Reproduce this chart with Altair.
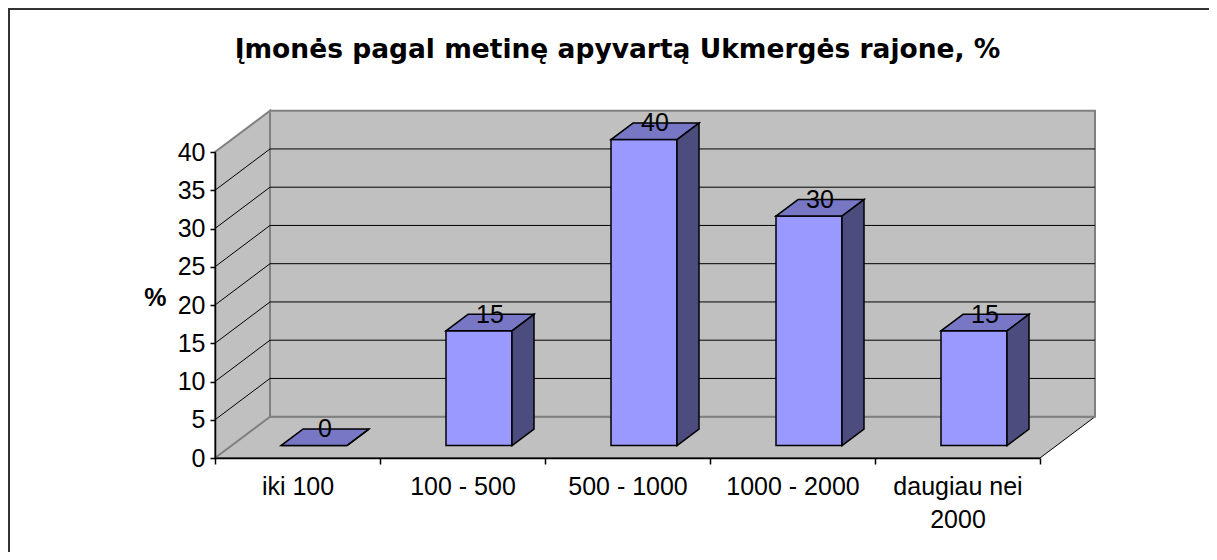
import json
import altair as alt
import pandas as pd

# ---------------- data ----------------
categories = ["iki 100", "100 - 500", "500 - 1000", "1000 - 2000", "daugiau nei\n2000"]
values = [0, 15, 40, 30, 15]
y_ticks = [0, 5, 10, 15, 20, 25, 30, 35, 40]
title_text = "Įmonės pagal metinę apyvartą Ukmergės rajone, %"
y_title = "%"

# ---------------- layout constants ----------------
FONT = "Liberation Sans"
TITLE_FONT = "DejaVu Sans"
PX_CAT = 165.0
PX_VAL = 7.65
N = len(categories)
YMAX = y_ticks[-1]
W = N * PX_CAT
H = YMAX * PX_VAL
PAD = {"left": 207, "top": 144, "right": 1201 - 207 - W, "bottom": 544 - 144 - H}
DEPTH_X_PX, DEPTH_Y_PX = 55.0, 41.3

DX = DEPTH_X_PX / PX_CAT
DY = DEPTH_Y_PX / PX_VAL
D0, D1 = 0.3, 0.7
HW = 0.2

C_FRONT = "#9999ff"
C_TOP = "#7777c6"
C_SIDE = "#4c4c7f"
C_WALL = "#c0c0c0"
C_EDGE = "#808080"

names_js = json.dumps([c.split("\n") for c in categories], ensure_ascii=False)
x_axis_vals = [k * 0.5 for k in range(2 * N + 1)]

y_axis = alt.Axis(
    values=y_ticks,
    grid=False,
    zindex=1,
    tickSize=5,
    tickColor="black",
    tickWidth=1.5,
    domainColor="black",
    domainWidth=1.5,
    labelFont=FONT,
    labelFontSize=25,
    labelColor="black",
    labelPadding=5,
    title=y_title,
    titleFont=FONT,
    titleFontSize=25,
    titleFontWeight="bold",
    titleColor="black",
    titleAngle=0,
    titleX=-49,
    titleY=145,
    titleAlign="right",
    titleBaseline="middle",
)
x_axis = alt.Axis(
    values=x_axis_vals,
    grid=False,
    zindex=1,
    tickSize=6,
    tickColor="black",
    tickWidth=1.5,
    domainColor="black",
    domainWidth=1.5,
    tickOpacity={"condition": {"test": "datum.value % 1 != 0", "value": 0}, "value": 1},
    labelExpr=f"datum.value % 1 == 0.5 ? {names_js}[floor(datum.value)] : ''",
    labelFont=FONT,
    labelFontSize=25,
    labelColor="black",
    labelPadding=10,
    labelLineHeight=33,
    labelOverlap=False,
    labelFlush=False,
    title=None,
)

xs = alt.Scale(domain=[0, N], nice=False, zero=False)
ys = alt.Scale(domain=[0, YMAX], nice=False, zero=False)


def X(f):
    return alt.X(f, type="quantitative", scale=xs, axis=x_axis)


def Y(f):
    return alt.Y(f, type="quantitative", scale=ys, axis=y_axis)


# ---------------- derived geometry tables ----------------
floor_df = pd.DataFrame({"y": [0, DY], "x": [0, DX], "x2": [N, N + DX]})
left_df = pd.DataFrame({"x": [0, DX], "y": [0, DY], "y2": [YMAX, YMAX + DY]})
back_df = pd.DataFrame({"x": [DX], "x2": [N + DX], "y": [DY], "y2": [YMAX + DY]})
inner = y_ticks[1:-1]
grid_back_df = pd.DataFrame({"x": DX, "x2": N + DX, "y": [k + DY for k in inner]})
grid_left_df = pd.DataFrame({"x": 0, "x2": DX, "y": inner, "y2": [k + DY for k in inner]})

front_rows, top_rows, side_rows, label_rows = [], [], [], []
for i, v in enumerate(values):
    c = i + 0.5
    xl, xr = c - HW + D0 * DX, c + HW + D0 * DX
    front_rows.append({"bar": i, "x": xl, "x2": xr, "y": D0 * DY, "y2": v + D0 * DY})
    sh = (D1 - D0) * DX
    top_rows += [
        {"bar": i, "y": v + D0 * DY, "x": xl, "x2": xr},
        {"bar": i, "y": v + D1 * DY, "x": xl + sh, "x2": xr + sh},
    ]
    side_rows += [
        {"bar": i, "x": xr, "y": D0 * DY, "y2": v + D0 * DY},
        {"bar": i, "x": xr + sh, "y": D1 * DY, "y2": v + D1 * DY},
    ]
    label_rows.append({"x": c + 0.5 * (D0 + D1) * DX, "y": v + 0.5 * (D0 + D1) * DY, "t": str(v)})

front_df = pd.DataFrame(front_rows)
top_df = pd.DataFrame(top_rows)
side_df = pd.DataFrame(side_rows)
label_df = pd.DataFrame(label_rows)

# ---------------- layers ----------------
floor = alt.Chart(floor_df).mark_area(
    orient="horizontal", fill=C_WALL, stroke="black", strokeWidth=1
).encode(y=Y("y"), x=X("x"), x2="x2")

left_wall = alt.Chart(left_df).mark_area(
    orient="vertical", fill=C_WALL, stroke=C_EDGE, strokeWidth=2
).encode(x=X("x"), y=Y("y"), y2="y2")

back_wall = alt.Chart(back_df).mark_rect(
    fill=C_WALL, stroke=C_EDGE, strokeWidth=2
).encode(x=X("x"), x2="x2", y=Y("y"), y2="y2")

grid_back = alt.Chart(grid_back_df).mark_rule(color="black", strokeWidth=1).encode(
    x=X("x"), x2="x2", y=Y("y")
)
grid_left = alt.Chart(grid_left_df).mark_rule(color="black", strokeWidth=1).encode(
    x=X("x"), x2="x2", y=Y("y"), y2="y2"
)

fronts = alt.Chart(front_df).mark_rect(fill=C_FRONT, stroke="black", strokeWidth=1.5).encode(
    x=X("x"), x2="x2", y=Y("y"), y2="y2"
)
tops = alt.Chart(top_df).mark_area(
    orient="horizontal", fill=C_TOP, stroke="black", strokeWidth=1.5
).encode(y=Y("y"), x=X("x"), x2="x2", detail="bar:N")
sides = alt.Chart(side_df).mark_area(
    orient="vertical", fill=C_SIDE, stroke="black", strokeWidth=1.5
).encode(x=X("x"), y=Y("y"), y2="y2", detail="bar:N")

labels = alt.Chart(label_df).mark_text(
    font=FONT, fontSize=25, color="black", align="center", baseline="alphabetic"
).encode(x=X("x"), y=Y("y"), text="t:N")

title_mark = alt.Chart(pd.DataFrame({"t": [title_text]})).mark_text(
    font=TITLE_FONT, fontSize=26.5, fontWeight="bold", color="black",
    align="center", baseline="alphabetic",
).encode(x=alt.value(W / 2 - 10), y=alt.value(-94), text="t:N")

# chart-area frame (only its top and left edges fall inside the window)
frame_left = alt.Chart(pd.DataFrame({"a": [0]})).mark_rule(color="#333333", strokeWidth=2).encode(
    x=alt.value(-PAD["left"] + 1), y=alt.value(-PAD["top"]), y2=alt.value(H + PAD["bottom"])
)
frame_top = alt.Chart(pd.DataFrame({"a": [0]})).mark_rule(color="#333333", strokeWidth=2).encode(
    x=alt.value(-PAD["left"]), x2=alt.value(W + PAD["right"]), y=alt.value(-PAD["top"] + 1)
)

chart = (
    alt.layer(
        floor, left_wall, back_wall, grid_back, grid_left,
        fronts, tops, sides, labels, title_mark, frame_left, frame_top,
    )
    .properties(
        width=W,
        height=H,
        autosize=alt.AutoSizeParams(type="none"),
        padding=PAD,
        background="white",
    )
    .configure_view(stroke=None)
)

chart.save("out.html", embed_options={"renderer": "svg", "actions": False})
